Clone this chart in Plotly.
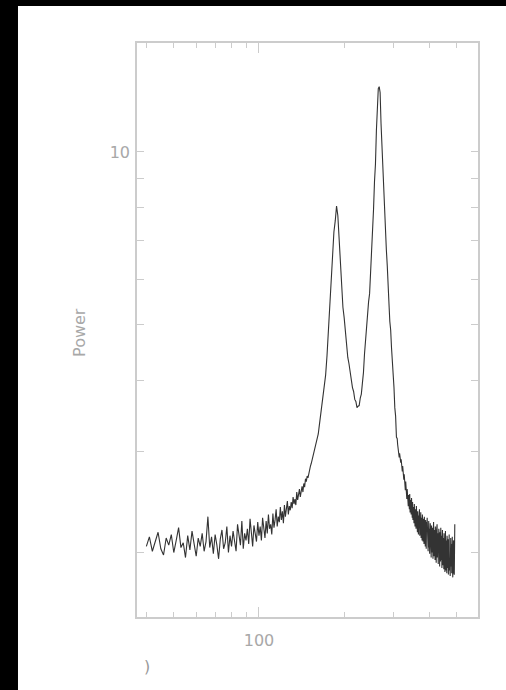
import plotly.graph_objects as go

# Power spectrum samples, stored in three frequency bands
freq_low = [
    40, 41, 42, 43, 44, 45, 46, 47, 48, 49,
    50, 51, 52, 53, 54, 55, 56, 57, 58, 59,
    60, 61, 62, 63, 64, 65, 66, 67, 68, 69,
    70, 71, 72, 73, 74, 75, 76, 77, 78, 79,
    80, 81, 82, 83, 84, 85, 86, 87, 88, 89,
    90, 91, 92, 93, 94, 95, 96, 97, 98, 99,
    100, 101, 102, 103, 104, 105, 106, 107, 108, 109,
    110, 111, 112, 113, 114, 115, 116, 117, 118, 119,
    120, 121, 122, 123, 124, 125, 126, 127, 128, 129,
    130, 131, 132, 133, 134, 135, 136, 137, 138, 139,
    140, 141, 142, 143, 144, 145, 146, 147, 148, 149,
    150, 151, 152, 153, 154, 155, 156, 157, 158, 159,
    160, 161, 162, 163, 164, 165, 166, 167, 168, 169,
]
power_low = [
    2.05, 2.13, 2.01, 2.09, 2.17, 2.03, 1.98, 2.12, 2.06, 2.15,
    2.00, 2.10, 2.21, 2.04, 2.08, 1.96, 2.14, 2.02, 2.18, 2.07,
    1.97, 2.12, 2.05, 2.16, 2.01, 2.09, 2.31, 2.04, 2.13, 1.99,
    2.15, 2.06, 1.95, 2.11, 2.19, 2.03, 2.08, 2.22, 2.00, 2.14,
    2.05, 2.18, 2.09, 2.01, 2.24, 2.12, 2.06, 2.27, 2.03, 2.16,
    2.10, 2.20, 2.07, 2.29, 2.12, 2.05, 2.23, 2.15, 2.09, 2.26,
    2.14, 2.22, 2.10, 2.30, 2.18, 2.12, 2.27, 2.16, 2.33, 2.20,
    2.24, 2.15, 2.34, 2.21, 2.28, 2.38, 2.22, 2.31, 2.26, 2.40,
    2.28, 2.36, 2.25, 2.42, 2.31, 2.38, 2.46, 2.33, 2.41, 2.37,
    2.45, 2.39, 2.50, 2.43, 2.48, 2.42, 2.55, 2.47, 2.52, 2.58,
    2.50, 2.57, 2.61, 2.55, 2.64, 2.60, 2.69, 2.66, 2.72, 2.70,
    2.76, 2.78, 2.83, 2.86, 2.90, 2.93, 2.97, 3.02, 3.05, 3.10,
    3.12, 3.17, 3.22, 3.30, 3.38, 3.45, 3.52, 3.60, 3.68, 3.77,
]

freq_mid = [
    170, 172, 174, 176, 178, 180, 182, 184, 186, 188,
    190, 192, 194, 196, 198, 200, 202, 204, 206, 208,
    210, 212, 214, 216, 218, 220, 222, 224, 226, 228,
    230, 232, 234, 236, 238, 240, 242, 244, 246, 248,
    250, 252, 254, 256, 258, 260, 262, 264, 266, 268,
    270, 272, 274, 276, 278, 280, 282, 284, 286, 288,
    290, 292, 294, 296, 298, 300, 302, 304, 306, 308,
]
power_mid = [
    3.88, 4.08, 4.42, 4.88, 5.66, 6.24, 6.66, 7.25, 7.58, 8.05,
    7.74, 7.05, 6.25, 5.84, 5.36, 5.14, 4.82, 4.63, 4.38, 4.27,
    4.10, 4.03, 3.88, 3.82, 3.70, 3.67, 3.58, 3.60, 3.61, 3.72,
    3.78, 3.95, 4.12, 4.44, 4.68, 5.04, 5.17, 5.48, 5.66, 6.14,
    6.55, 7.36, 7.94, 8.87, 9.52, 10.9, 11.7, 12.9, 13.0, 12.7,
    11.2, 10.2, 9.24, 8.46, 7.55, 7.16, 6.74, 6.34, 5.66, 5.44,
    5.06, 4.89, 4.56, 4.34, 4.01, 3.88, 3.58, 3.46, 3.18, 3.16,
]

freq_high = [
    309, 310, 311, 312, 313, 314, 315, 316, 317, 318,
    319, 320, 321, 322, 323, 324, 325, 326, 327, 328,
    329, 330, 331, 332, 333, 334, 335, 336, 337, 338,
    339, 340, 341, 342, 343, 344, 345, 346, 347, 348,
    349, 350, 351, 352, 353, 354, 355, 356, 357, 358,
    359, 360, 361, 362, 363, 364, 365, 366, 367, 368,
    369, 370, 371, 372, 373, 374, 375, 376, 377, 378,
    379, 380, 381, 382, 383, 384, 385, 386, 387, 388,
    389, 390, 391, 392, 393, 394, 395, 396, 397, 398,
    399, 400, 401, 402, 403, 404, 405, 406, 407, 408,
    409, 410, 411, 412, 413, 414, 415, 416, 417, 418,
    419, 420, 421, 422, 423, 424, 425, 426, 427, 428,
    429, 430, 431, 432, 433, 434, 435, 436, 437, 438,
    439, 440, 441, 442, 443, 444, 445, 446, 447, 448,
    449, 450, 451, 452, 453, 454, 455, 456, 457, 458,
    459, 460, 461, 462, 463, 464, 465, 466, 467, 468,
    469, 470, 471, 472, 473, 474, 475, 476, 477, 478,
    479, 480, 481, 482, 483, 484, 485, 486, 487, 488,
    489, 490, 491, 492,
]
power_high = [
    3.09, 3.02, 2.97, 3.01, 2.93, 2.98, 2.90, 2.94, 2.87, 2.91,
    2.82, 2.86, 2.77, 2.83, 2.72, 2.79, 2.68, 2.74, 2.62, 2.70,
    2.57, 2.66, 2.52, 2.61, 2.48, 2.58, 2.45, 2.55, 2.41, 2.52,
    2.46, 2.38, 2.53, 2.35, 2.47, 2.41, 2.33, 2.49, 2.36, 2.30,
    2.45, 2.28, 2.40, 2.34, 2.25, 2.43, 2.31, 2.22, 2.38, 2.27,
    2.20, 2.41, 2.24, 2.33, 2.17, 2.36, 2.26, 2.15, 2.32, 2.21,
    2.38, 2.14, 2.28, 2.19, 2.35, 2.12, 2.24, 2.30, 2.10, 2.33,
    2.18, 2.09, 2.29, 2.22, 2.07, 2.31, 2.15, 2.25, 2.05, 2.28,
    2.12, 2.03, 2.26, 2.18, 2.30, 2.06, 2.21, 2.01, 2.15, 2.27,
    2.04, 2.20, 1.99, 2.13, 2.25, 2.02, 2.18, 1.96, 2.23, 2.09,
    2.00, 2.21, 2.11, 1.95, 2.17, 2.26, 2.03, 1.97, 2.19, 2.08,
    1.94, 2.22, 2.05, 2.14, 1.92, 2.18, 2.01, 2.24, 1.96, 2.10,
    2.16, 1.91, 2.06, 2.20, 1.98, 2.12, 1.89, 2.17, 2.03, 1.93,
    2.21, 2.08, 1.94, 2.14, 1.88, 2.05, 2.19, 1.97, 1.90, 2.12,
    2.02, 1.87, 2.16, 1.95, 2.09, 1.85, 2.01, 2.18, 1.92, 1.86,
    2.10, 1.99, 1.84, 2.14, 1.94, 2.06, 1.88, 2.11, 1.83, 2.03,
    1.96, 2.15, 1.86, 1.92, 2.08, 1.82, 2.01, 2.12, 1.89, 1.95,
    2.07, 1.84, 1.98, 2.13, 1.87, 1.81, 2.04, 1.93, 2.10, 1.85,
    1.97, 1.83, 2.06, 2.24,
]

freq = freq_low + freq_mid + freq_high
power = power_low + power_mid + power_high

# Axis ticks
x_major = [100]
x_major_labels = ["100"]
x_minor = [40, 50, 60, 70, 80, 90, 200, 300, 400, 500]
y_major = [10]
y_major_labels = ["10"]
y_minor = [2, 3, 4, 5, 6, 7, 8, 9]

axis_grey = "#cccccc"
label_grey = "#a8a8a8"
font_family = "DejaVu Sans"

fig = go.Figure()
fig.add_trace(go.Scatter(
    x=freq, y=power, mode="lines",
    line=dict(color="#333333", width=1.1),
    showlegend=False, hoverinfo="skip",
))

fig.update_layout(
    width=506, height=690,
    margin=dict(l=137, r=28, t=43, b=73),
    paper_bgcolor="white", plot_bgcolor="white",
    font=dict(family=font_family, color=label_grey, size=16),
    xaxis=dict(
        type="log", range=[1.569, 2.774],
        showgrid=False, zeroline=False,
        showline=True, linecolor=axis_grey, linewidth=1.5, mirror="ticks",
        ticks="inside", ticklen=10, tickwidth=1, tickcolor=axis_grey,
        tickvals=x_major, ticktext=x_major_labels,
        tickfont=dict(size=16, color=label_grey, family=font_family),
        ticklabelstandoff=8,
        minor=dict(tickvals=x_minor, ticks="inside", ticklen=5, tickcolor=axis_grey, showgrid=False),
    ),
    yaxis=dict(
        type="log", range=[0.1885, 1.1902],
        showgrid=False, zeroline=False,
        showline=True, linecolor=axis_grey, linewidth=1.5, mirror="ticks",
        ticks="inside", ticklen=7, tickwidth=1, tickcolor=axis_grey,
        tickvals=y_major, ticktext=y_major_labels,
        tickfont=dict(size=16, color=label_grey, family=font_family),
        ticklabelstandoff=2,
        minor=dict(tickvals=y_minor, ticks="inside", ticklen=7, tickcolor=axis_grey, showgrid=False),
    ),
    shapes=[
        # dark frame bands along the top and left edges of the page
        dict(type="rect", xref="paper", yref="paper", x0=-1, x1=-0.349, y0=-1, y1=2,
             fillcolor="black", line=dict(width=0), layer="above"),
        dict(type="rect", xref="paper", yref="paper", x0=-1, x1=2, y0=1.0645, y1=2,
             fillcolor="black", line=dict(width=0), layer="above"),
    ],
    annotations=[
        dict(text="Power", xref="paper", yref="paper", x=-0.167, y=0.495,
             textangle=-90, showarrow=False, xanchor="center", yanchor="middle",
             font=dict(size=16, color=label_grey, family=font_family)),
        dict(text=")", xref="paper", yref="paper", x=0.029, y=-0.087,
             showarrow=False, xanchor="center", yanchor="middle",
             font=dict(size=16, color="#999999", family=font_family)),
    ],
)

fig.write_html("out.html")
